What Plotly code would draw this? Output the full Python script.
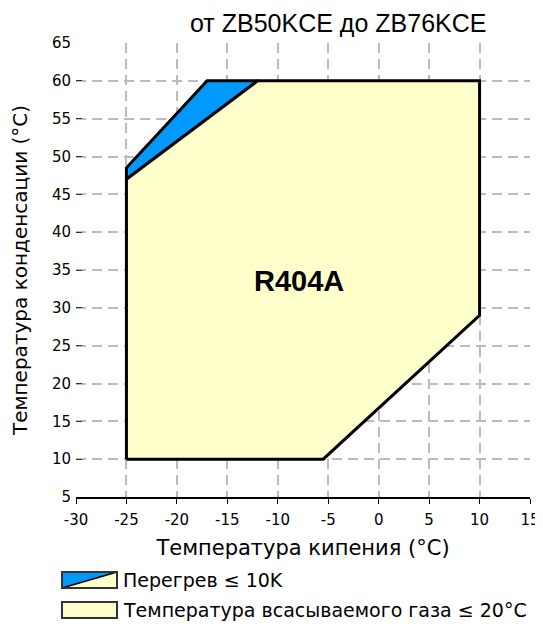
import plotly.graph_objects as go

# Data
title_text = "от ZB50KCE до ZB76KCE"
refrigerant = "R404A"
x_title = "Температура кипения (°C)"
y_title = "Температура конденсации (°C)"

# Envelope: suction gas temperature ≤ 20°C (yellow)
env_x = [-25, -5.5, 10, 10, -12, -25, -25]
env_y = [10, 10, 29, 60, 60, 47, 10]
# Extra zone with superheat ≤ 10K (blue)
sh_x = [-25, -25, -17, -12, -25]
sh_y = [47, 48.5, 60, 60, 47]

legend_labels = ["Перегрев ≤ 10K", "Температура всасываемого газа ≤ 20°C"]

x_ticks = [-30, -25, -20, -15, -10, -5, 0, 5, 10, 15]
y_ticks = [5, 10, 15, 20, 25, 30, 35, 40, 45, 50, 55, 60, 65]

BLUE = "#0099FF"
YELLOW = "#FFFFCC"
FONT = "DejaVu Sans, Arial"
AFONT = "Arial, Liberation Sans"

# page body has an 8px margin: figure is placed at (8, 8)
OFF = 8
L, T, PW, PH = 76 - OFF, 43 - OFF, 454, 454

fig = go.Figure()
fig.add_trace(go.Scatter(x=sh_x, y=sh_y, fill="toself", fillcolor=BLUE,
                         mode="lines", line=dict(color="black", width=3),
                         showlegend=False, hoverinfo="skip"))
fig.add_trace(go.Scatter(x=env_x, y=env_y, fill="toself", fillcolor=YELLOW,
                         mode="lines", line=dict(color="black", width=3),
                         showlegend=False, hoverinfo="skip"))

fig.add_annotation(x=-7.9, y=33.5, text="<b>" + refrigerant + "</b>", showarrow=False,
                   font=dict(family=AFONT, size=29, color="black"))


# Custom legend (positions in screen pixels of the reference)
def py2paper(py):
    return (497 - py) / 454.0


def px2paper(px):
    return (px - 76) / 454.0


fig.add_annotation(xref="paper", yref="paper", x=0.577, y=py2paper(OFF), borderpad=0,
                   text=title_text, showarrow=False, xanchor="center", yanchor="top",
                   font=dict(family=AFONT, size=25, color="black"))

sw_x0, sw_x1 = px2paper(62), px2paper(117)
rows = [(572, 588), (602, 618)]
# first swatch: diagonal split blue / yellow
y0, y1 = py2paper(rows[0][1]), py2paper(rows[0][0])
fig.add_shape(type="path", xref="paper", yref="paper",
              path=f"M {sw_x0},{y0} L {sw_x0},{y1} L {sw_x1},{y1} Z",
              fillcolor=BLUE, line=dict(width=0))
fig.add_shape(type="path", xref="paper", yref="paper",
              path=f"M {sw_x0},{y0} L {sw_x1},{y1} L {sw_x1},{y0} Z",
              fillcolor=YELLOW, line=dict(width=0))
fig.add_shape(type="line", xref="paper", yref="paper", x0=sw_x0, y0=y0, x1=sw_x1, y1=y1,
              line=dict(color="black", width=1.5))
fig.add_shape(type="rect", xref="paper", yref="paper", x0=sw_x0, y0=y0, x1=sw_x1, y1=y1,
              line=dict(color="#333333", width=2))
# second swatch
y0b, y1b = py2paper(rows[1][1]), py2paper(rows[1][0])
fig.add_shape(type="rect", xref="paper", yref="paper", x0=sw_x0, y0=y0b, x1=sw_x1, y1=y1b,
              fillcolor=YELLOW, line=dict(color="#333333", width=2))
for (r0, r1), lab in zip(rows, legend_labels):
    fig.add_annotation(xref="paper", yref="paper", x=px2paper(121), y=py2paper((r0 + r1) / 2),
                       text=lab, showarrow=False, xanchor="left", yanchor="middle",
                       font=dict(family=FONT, size=19, color="black"))

grid = dict(showgrid=True, gridcolor="#BBBBBB", gridwidth=2, griddash="10px,6px",
            zeroline=False, automargin=False)

fig.update_xaxes(range=[-30, 15], tickvals=x_ticks, ticktext=[str(v) for v in x_ticks],
                 showline=True, linecolor="black", linewidth=2,
                 ticks="outside", ticklen=5, tickcolor="black", tickwidth=1,
                 ticklabelstandoff=3,
                 tickfont=dict(family=FONT, size=15, color="black"),
                 title=dict(text=x_title, standoff=12,
                            font=dict(family=FONT, size=21, color="black")),
                 **grid)
fig.update_yaxes(range=[5, 65], tickvals=y_ticks, ticktext=[str(v) for v in y_ticks],
                 showline=False,
                 ticks="inside", ticklen=6, tickcolor="#333333", tickwidth=1,
                 ticklabelstandoff=4,
                 tickfont=dict(family=FONT, size=15, color="black"),
                 title=dict(text=y_title, standoff=20,
                            font=dict(family=FONT, size=20, color="black")),
                 **grid)

fig.update_layout(width=543 - OFF, height=628 - OFF,
                  margin=dict(l=L, r=543 - OFF - L - PW, t=T, b=628 - OFF - T - PH),
                  plot_bgcolor="white", paper_bgcolor="white", showlegend=False)

fig.write_html("out.html")
